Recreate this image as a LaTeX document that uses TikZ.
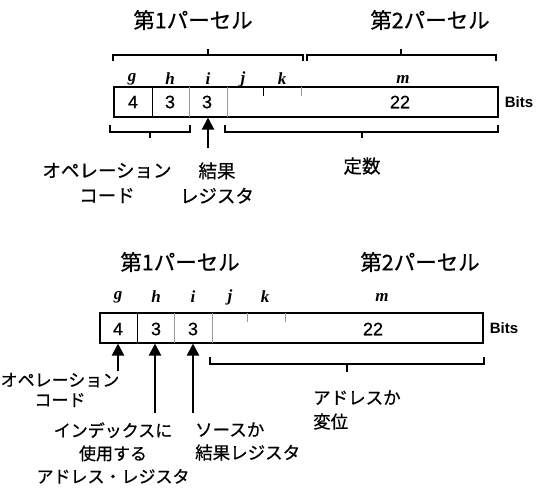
\documentclass[tikz,border=0pt]{standalone}
\usepackage{fontspec}
\setmainfont{Liberation Sans}
\newfontfamily\jp{Noto Sans CJK JP}[FakeBold=0.6]
\newfontfamily\dig{Liberation Sans}[FakeBold=0.5]
\newfontfamily\tms{Liberation Serif}
\usetikzlibrary{arrows.meta}
\tikzset{
  ttl/.style={font=\jp\fontsize{21.5}{22}\selectfont, inner sep=0pt},
  lbl/.style={font=\jp\fontsize{18.5}{25}\selectfont, align=center, inner sep=0pt},
  var/.style={font=\tms\bfseries\itshape\fontsize{17}{17}\selectfont, inner sep=0pt},
  num/.style={font=\dig\fontsize{18}{18}\selectfont, inner sep=0pt},
  bits/.style={font=\bfseries\fontsize{15}{15}\selectfont, inner sep=0pt},
  fbox/.style={draw, line width=1.1pt, minimum height=30pt, inner sep=0pt},
  dvb/.style={line width=1pt},
  dvg/.style={line width=1pt, gray!80},
  brc/.style={line width=1.8pt},
  arr/.style={-{Triangle[length=12pt,width=12pt]}, line width=2.2pt},
}
\begin{document}
\begin{tikzpicture}[x=1pt,y=-1pt]
\useasboundingbox (0,0) rectangle (538,489);
% ================= top diagram =================
\node[ttl] (t1a) at (193,20) {第1パーセル};
\node[ttl] (t1b) at (430,20) {第2パーセル};
\draw[brc] (113,61) -- (113,55) -- (303,55) -- (303,61) (208,55) -- (208,49);
\draw[brc] (307,61) -- (307,55) -- (496,55) -- (496,61) (401,55) -- (401,49);
\node[var] (ga) at (132,79) {g};
\node[var] (ha) at (170,79) {h};
\node[var] (ia) at (208,79) {i};
\node[var] (ja) at (243,79) {j};
\node[var] (ka) at (282,79) {k};
\node[var] (ma) at (403,79) {m};
\node[fbox, minimum width=384pt] (boxa) at (306,102) {};
\draw[dvb] (152,87) -- (152,117);
\draw[dvg] (189,87) -- (189,117);
\draw[dvg] (227,87) -- (227,117);
\draw[dvb] (263,87) -- (263,96);
\draw[dvg] (301,87) -- (301,96);
\node[num] (n4a) at (133,102) {4};
\node[num] (n3a) at (170,102) {3};
\node[num] (n3b) at (207,102) {3};
\node[num] (n22a) at (400,102) {22};
\node[bits] (bitsa) at (519,102) {Bits};
\draw[brc] (110,125) -- (110,132) -- (190,132) -- (190,125) (150,132) -- (150,138);
\draw[brc] (225,125) -- (225,132) -- (498,132) -- (498,125) (362,132) -- (362,138);
\node[lbl] (opa) at (107,183) {オペレーション\\コード};
\node[lbl] (resa) at (217,183) {結果\\レジスタ};
\node[lbl] (consta) at (362,166) {定数};
\coordinate (arra) at (208,148);
\draw[arr] (arra) -- (arra |- boxa.south);
% ================= bottom diagram =================
\node[ttl] (t2a) at (180,262) {第1パーセル};
\node[ttl] (t2b) at (420,262) {第2パーセル};
\node[var] (gb) at (118,297) {g};
\node[var] (hb) at (156,297) {h};
\node[var] (ib) at (193,297) {i};
\node[var] (jb) at (230,297) {j};
\node[var] (kb) at (265,297) {k};
\node[var] (mb) at (382,297) {m};
\node[fbox, minimum width=383pt] (boxb) at (291.5,328) {};
\draw[dvb] (137,313) -- (137,343);
\draw[dvg] (174,313) -- (174,343);
\draw[dvg] (212,313) -- (212,343);
\draw[dvg] (247,313) -- (247,322);
\draw[dvg] (285,313) -- (285,322);
\node[num] (n4b) at (118,329) {4};
\node[num] (n3c) at (156,329) {3};
\node[num] (n3d) at (193,329) {3};
\node[num] (n22b) at (373,329) {22};
\node[bits] (bitsb) at (504,328) {Bits};
\draw[brc] (210,357) -- (210,364) -- (484,364) -- (484,357) (347,364) -- (347,372);
\node[lbl, font=\jp\fontsize{17}{20}\selectfont] (opb) at (60,390) {オペレーション\\コード};
\node[lbl, font=\jp\fontsize{17}{23}\selectfont] (idx) at (113,453) {インデックスに\\使用する\\アドレス・レジスタ};
\node[lbl, font=\jp\fontsize{17.5}{23}\selectfont, align=left, anchor=west] (src) at (195,441.5) {ソースか\\結果レジスタ};
\node[lbl, font=\jp\fontsize{17.5}{24}\selectfont, align=left, anchor=west] (addr) at (313,410) {アドレスか\\変位};
\coordinate (arrb1) at (118,371);
\coordinate (arrb2) at (155,413);
\coordinate (arrb3) at (193,413);
\draw[arr] (arrb1) -- (arrb1 |- boxb.south);
\draw[arr] (arrb2) -- (arrb2 |- boxb.south);
\draw[arr] (arrb3) -- (arrb3 |- boxb.south);
\end{tikzpicture}
\end{document}
